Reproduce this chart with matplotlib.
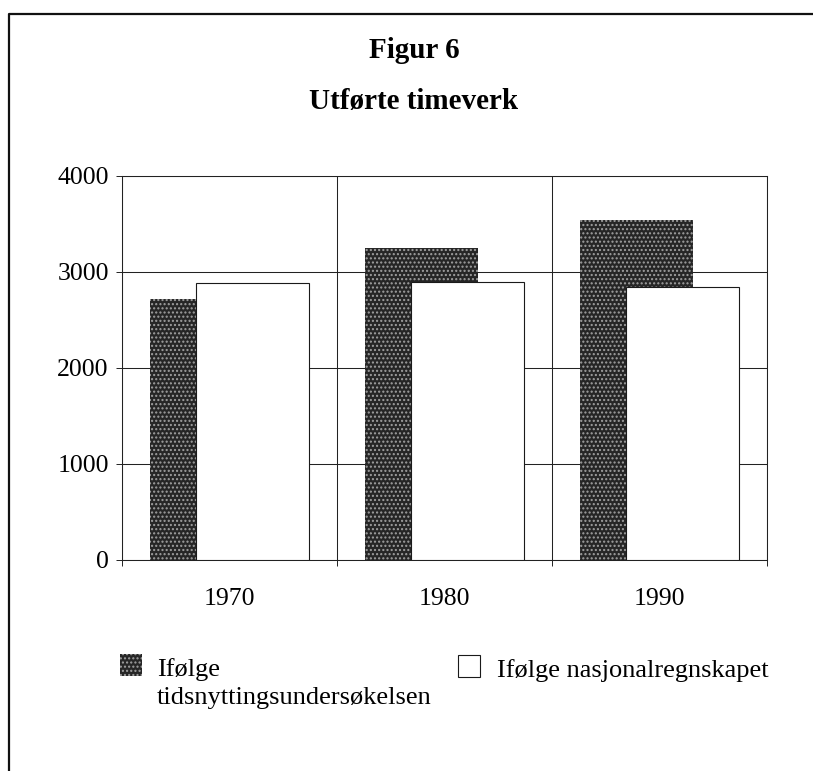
import matplotlib
matplotlib.use("Agg")
import matplotlib.pyplot as plt
from matplotlib.patches import Rectangle
from matplotlib.lines import Line2D
import numpy as np

# ---- data ----
years = ["1970", "1980", "1990"]
tidsnytting = [2716, 3247, 3542]
nasjonalregnskap = [2882, 2899, 2847]
yticks = [0, 1000, 2000, 3000, 4000]
label_tids = "Ifølge\ntidsnyttingsundersøkelsen"
label_nasj = "Ifølge nasjonalregnskapet"
title1 = "Figur 6"
title2 = "Utførte timeverk"

plt.rcParams['font.family'] = ['Liberation Serif', 'DejaVu Serif']
plt.rcParams['hatch.color'] = '#a0a0a0'
plt.rcParams['hatch.linewidth'] = 1.0

W, H = 813, 771
fig = plt.figure(figsize=(W / 100, H / 100), dpi=100)

def fx(px):
    return px / W

def fy(py):
    return 1 - py / H

ax = fig.add_axes([fx(122), fy(560), fx(767) - fx(122), fy(176) - fy(560)])

x = np.arange(len(years))
off = 0.105
width = 0.526
dark_style = dict(color='#262626', hatch='....', edgecolor=None, linewidth=0)
white_style = dict(color='white', edgecolor='#1a1a1a', linewidth=0.8)

ax.bar(x - off, tidsnytting, width, zorder=2, **dark_style)
ax.bar(x + off, nasjonalregnskap, width, zorder=3, **white_style)

ax.set_xlim(-0.5, len(years) - 0.5)
ax.set_ylim(0, 4000)
ax.set_yticks(yticks)
ax.set_yticklabels([str(v) for v in yticks])
ax.set_xticks(x)
ax.set_xticklabels(years)
ax.set_xticks(np.arange(-0.5, len(years), 1.0), minor=True)

ax.tick_params(axis='y', which='major', direction='out', length=4.5, width=0.7,
               pad=5, labelsize=18.5, color='#222222')
ax.tick_params(axis='x', which='major', length=0, pad=20, labelsize=18.5)
ax.tick_params(axis='x', which='minor', direction='out', length=4, width=0.7,
               color='#222222')

ax.set_axisbelow(True)
ax.yaxis.grid(True, which='major', color='#222222', linewidth=0.75)
ax.xaxis.grid(True, which='minor', color='#222222', linewidth=0.75)
ax.xaxis.grid(False, which='major')

for s in ax.spines.values():
    s.set_color('#222222')
    s.set_linewidth(0.75)

# titles
fig.text(fx(414), fy(58), title1, ha='center', va='baseline', fontsize=21,
         fontweight='bold')
fig.text(fx(414), fy(109), title2, ha='center', va='baseline', fontsize=21,
         fontweight='bold')

# legend (manual layout)
sq = 22
r1 = Rectangle((fx(120), fy(676)), fx(sq), fy(0) - fy(sq), transform=fig.transFigure,
               facecolor='#262626', hatch='....', edgecolor=None, linewidth=0)
fig.patches.append(r1)
r2 = Rectangle((fx(458), fy(677)), fx(sq), fy(0) - fy(sq), transform=fig.transFigure,
               facecolor='white', edgecolor='#1a1a1a', linewidth=0.8)
fig.patches.append(r2)
fig.text(fx(157), fy(676), label_tids.split("\n")[0], ha='left', va='baseline', fontsize=19)
fig.text(fx(157), fy(704), label_tids.split("\n")[1], ha='left', va='baseline', fontsize=19)
fig.text(fx(497), fy(677), label_nasj, ha='left', va='baseline', fontsize=19)

# outer frame (top and left edges)
fig.lines.append(Line2D([fx(9), fx(9), fx(813)], [fy(771), fy(14), fy(14)],
                        transform=fig.transFigure, color='#111111', linewidth=1.6))

fig.savefig("out.png", dpi=100)
